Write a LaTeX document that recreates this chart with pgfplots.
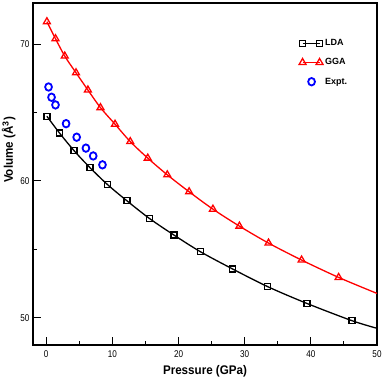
\documentclass[border=0pt]{standalone}
\usepackage{fontspec}
\setmainfont{Liberation Sans}
\newfontfamily\narrowfont{Liberation Sans}[FakeStretch=0.83]
\newfontfamily\labelfont{Liberation Sans}[FakeStretch=0.93]
\usepackage{pgfplots}
\usepackage{pgfplotstable}
\pgfplotsset{compat=1.18}

% computed points; the fitted lines below run a bit past the last one
\pgfplotstableread{
p v
0.1 64.72
2.0 63.50
4.2 62.21
6.6 60.97
9.3 59.71
12.2 58.54
15.6 57.25
19.3 56.04
23.3 54.82
28.2 53.55
33.5 52.26
39.4 51.04
46.2 49.78
}\lda
\pgfplotstableread{
p v
0.1 71.63
1.4 70.39
2.8 69.12
4.5 67.90
6.3 66.64
8.2 65.35
10.4 64.14
12.7 62.87
15.35 61.66
18.3 60.44
21.6 59.20
25.2 57.93
29.2 56.69
33.6 55.45
38.6 54.21
44.2 52.94
}\gga
\pgfplotstableread{
p v
0.35 66.86
0.8 66.11
1.4 65.55
3.0 64.18
4.6 63.19
6.0 62.39
7.1 61.82
8.5 61.17
}\expt

\begin{document}
\begin{tikzpicture}
\begin{axis}[
  name=ax,
  scale only axis,
  width=344pt, height=342pt,
  xmin=-2, xmax=50, ymin=48, ymax=73,
  xtick={0,10,...,50}, ytick={50,60,70},
  minor xtick={5,15,...,45}, minor ytick={55,65},
  tick align=inside,
  major tick length=8pt, minor tick length=4pt,
  every tick/.style={black, line width=0.9pt},
  axis line style={line width=1.7pt},
  xtick pos=bottom, ytick pos=left,
  /pgf/number format/assume math mode=true,
  ticklabel style={font=\narrowfont\fontsize{9.8}{10}\selectfont},
  xticklabel style={yshift=-2pt},
  xlabel={\labelfont\bfseries Pressure (GPa)},
  ylabel={\labelfont\bfseries Volume (Å$^{\mathbf{3}}$)},
  label style={font=\fontsize{12.5}{14}\selectfont},
  xlabel style={yshift=-1pt},
  ylabel style={at={(ticklabel cs:0.57)}, yshift=-2pt},
  legend cell align=left,
  legend style={draw=none, fill=none, at={(0.773,0.9)}, anchor=north west,
    font=\bfseries\fontsize{9}{10}\selectfont, row sep=7.5pt, inner sep=0pt},
]
\addplot[black, line width=1.3pt, smooth, forget plot] coordinates {
 (0.1,64.72) (2.0,63.50) (4.2,62.21) (6.6,60.97) (9.3,59.71) (12.2,58.54)
 (15.6,57.25) (19.3,56.04) (23.3,54.82) (28.2,53.55) (33.5,52.26)
 (39.4,51.04) (46.2,49.78) (50,49.22)};
\addplot[red, line width=1.3pt, smooth, forget plot] coordinates {
 (0.1,71.63) (1.4,70.39) (2.8,69.12) (4.5,67.90) (6.3,66.64) (8.2,65.35)
 (10.4,64.14) (12.7,62.87) (15.35,61.66) (18.3,60.44) (21.6,59.20)
 (25.2,57.93) (29.2,56.69) (33.6,55.45) (38.6,54.21) (44.2,52.94) (50,51.77)};

\addplot[black, only marks, mark=square, mark size=3pt,
  mark options={line width=1.3pt},
  legend image code/.code={
    \draw[black, line width=1.3pt] (0pt,0pt) -- (17pt,0pt);
    \draw[black, line width=1.3pt, mark=square, mark size=3pt]
      plot coordinates {(0pt,0pt) (17pt,0pt)};}]
  table[x=p, y=v] {\lda};
\addlegendentry{LDA}
\addplot[red, only marks, mark=triangle, mark size=4pt,
  mark options={line width=1.3pt},
  legend image code/.code={
    \draw[red, line width=1.3pt] (0pt,0pt) -- (17pt,0pt);
    \draw[red, line width=1.3pt, mark=triangle, mark size=4pt]
      plot coordinates {(0pt,0pt) (17pt,0pt)};}]
  table[x=p, y=v] {\gga};
\addlegendentry{GGA}
\addplot[blue, only marks, mark=o, mark size=3.4pt,
  mark options={line width=1.8pt, yscale=1.1},
  legend image code/.code={
    \draw[blue, line width=1.8pt, mark=o, mark size=3.4pt,
      mark options={yscale=1.1}]
      plot coordinates {(9pt,0pt)};}]
  table[x=p, y=v] {\expt};
\addlegendentry{Expt.}
\end{axis}
\pgfresetboundingbox
\path ([shift={(-33pt,-37pt)}]ax.south west) rectangle ([shift={(5pt,3pt)}]ax.north east);
\end{tikzpicture}
\end{document}
